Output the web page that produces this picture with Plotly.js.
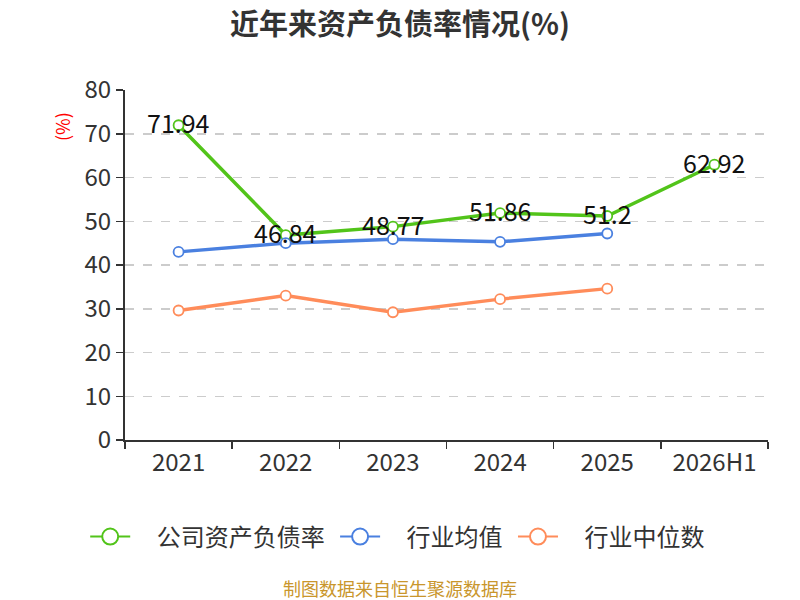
<!DOCTYPE html>
<html>
<head>
<meta charset="utf-8">
<script src="https://cdn.plot.ly/plotly-3.0.1.min.js"></script>
<style>
  html, body { margin: 0; padding: 0; background: #fff; }
  #chart { width: 800px; height: 600px; }
</style>
</head>
<body>
<div id="chart"></div>
<script>
// ─── data ───────────────────────────────────────────────────
var years = ['2021', '2022', '2023', '2024', '2025', '2026H1'];
var companyRatio = [71.94, 46.84, 48.77, 51.86, 51.2, 62.92];
var industryAvg = [43.0, 45.0, 45.9, 45.3, 47.2];
var industryMedian = [29.6, 33.0, 29.2, 32.2, 34.6];
var labelCompany = ['71.94', '46.84', '48.77', '51.86', '51.2', '62.92'];
var seriesNames = ['公司资产负债率', '行业均值', '行业中位数'];

var FONT = '"Noto Sans CJK SC", "Noto Sans", sans-serif';
var COLORS = ['#52c41a', '#4a80e0', '#ff8c5a'];
var NB = '\u00a0';

function lineTrace(name, x, y, color) {
  return {
    type: 'scatter', mode: 'lines+markers', name: name,
    x: x, y: y, showlegend: false,
    line: { color: color, width: 3.5 },
    marker: { symbol: 'circle', size: 10, color: '#fff', line: { color: color, width: 1.8 } },
    hoverinfo: 'x+y+name'
  };
}

// legend-only entry: bigger symbol, padded name to space items like the original
function legendTrace(name, color) {
  return {
    type: 'scatter', mode: 'lines+markers',
    name: NB + NB + NB + NB + name + NB,
    x: [null], y: [null], showlegend: true,
    line: { color: color, width: 2 },
    marker: { symbol: 'circle', size: 16, color: '#fff', line: { color: color, width: 2 } }
  };
}

var traces = [
  lineTrace(seriesNames[0], years, companyRatio, COLORS[0]),
  lineTrace(seriesNames[1], years.slice(0, industryAvg.length), industryAvg, COLORS[1]),
  lineTrace(seriesNames[2], years.slice(0, industryMedian.length), industryMedian, COLORS[2])
];
seriesNames.forEach(function (n, i) { traces.push(legendTrace(n, COLORS[i])); });

// value labels over the company line (x by category index, '2021' would be read as a number)
var annotations = years.map(function (yr, i) {
  return {
    x: i, y: companyRatio[i], xref: 'x', yref: 'y',
    text: labelCompany[i], showarrow: false,
    yanchor: 'middle', yshift: 3,
    font: { family: FONT, size: 25, color: '#111' }
  };
});

annotations.push({
  xref: 'paper', yref: 'paper', x: -0.098, y: 0.897,
  xanchor: 'center', yanchor: 'middle',
  text: '(%)', showarrow: false, textangle: -90,
  font: { family: FONT, size: 18, color: '#ff0000' }
});
annotations.push({
  xref: 'paper', yref: 'paper', x: 0.428, y: -0.424,
  xanchor: 'center', yanchor: 'middle',
  text: '制图数据来自恒生聚源数据库', showarrow: false,
  font: { family: FONT, size: 18, color: '#c9962c' }
});

var layout = {
  width: 800, height: 600,
  margin: { l: 125, r: 32, t: 90, b: 160 },
  paper_bgcolor: '#fff', plot_bgcolor: '#fff',
  font: { family: FONT, color: '#333' },
  title: {
    text: '<b>近年来资产负债率情况(%)</b>',
    x: 0.5, xanchor: 'center', y: 0.958, yanchor: 'middle',
    font: { family: FONT, size: 29, color: '#333' }
  },
  xaxis: {
    type: 'category', range: [-0.5, 5.5],
    tickson: 'boundaries', ticks: 'outside', ticklen: 7, tickwidth: 1.5, tickcolor: '#333',
    showline: true, linecolor: '#333', linewidth: 2,
    showgrid: false, zeroline: false,
    tickfont: { family: FONT, size: 24, color: '#333' }
  },
  yaxis: {
    range: [0, 80], dtick: 10,
    ticks: 'outside', ticklen: 7, tickwidth: 1.5, tickcolor: '#333',
    showline: true, linecolor: '#333', linewidth: 2,
    showgrid: true, gridcolor: '#cccccc', griddash: 'dash', gridwidth: 1.5,
    zeroline: false,
    tickfont: { family: FONT, size: 24, color: '#333' }
  },
  showlegend: true,
  legend: {
    orientation: 'h', x: 0.428, xanchor: 'center', y: -0.277, yanchor: 'middle',
    font: { family: FONT, size: 24, color: '#333' },
    itemsizing: 'trace', itemwidth: 40
  },
  annotations: annotations
};

Plotly.newPlot('chart', traces, layout, { staticPlot: true });
</script>
</body>
</html>
